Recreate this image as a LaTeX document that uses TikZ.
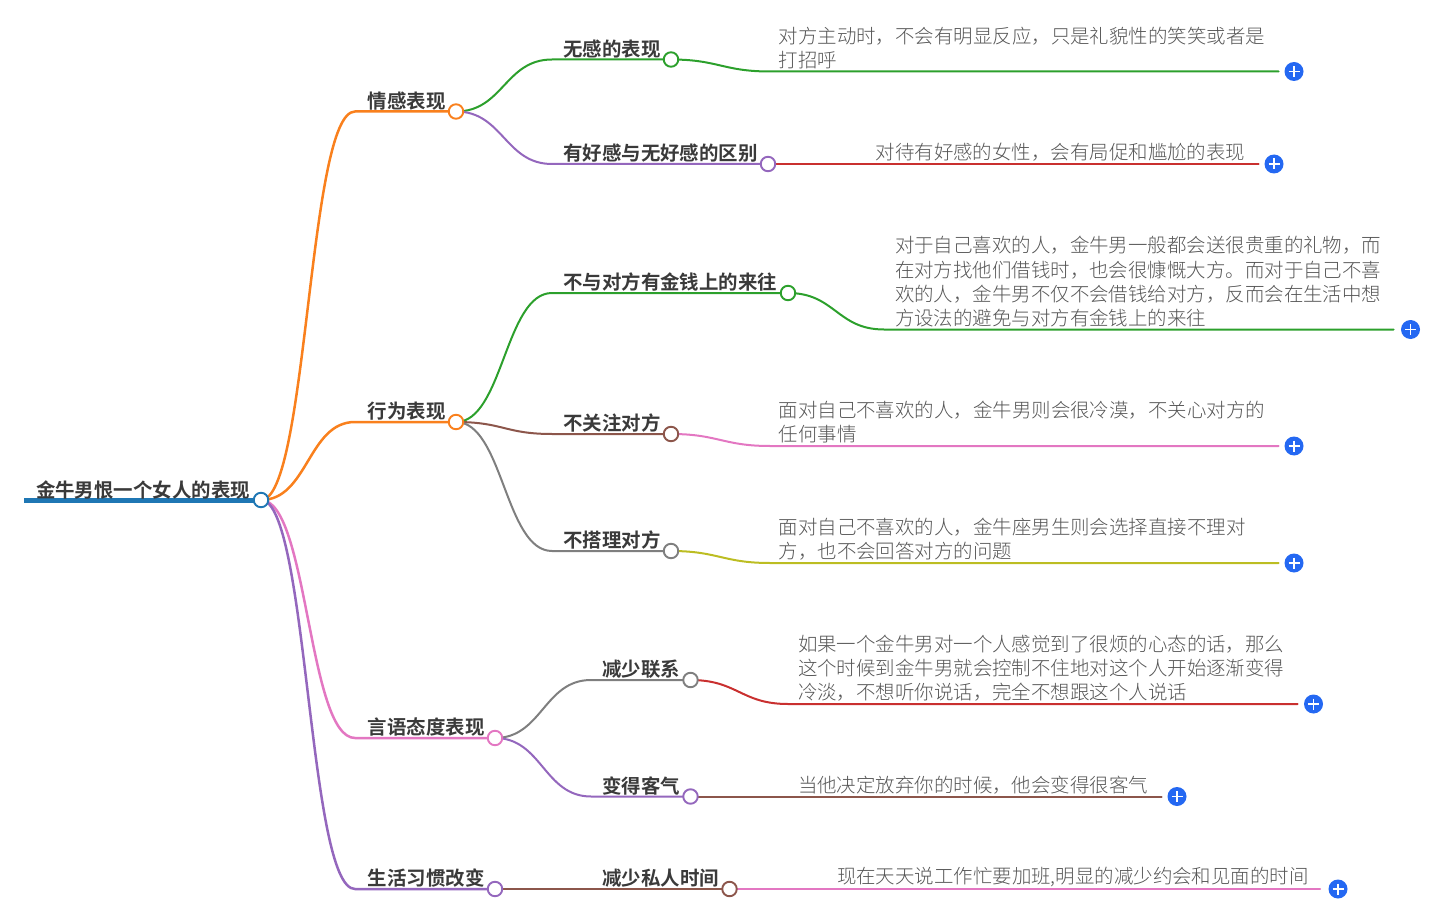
\documentclass[tikz,border=0pt]{standalone}
\usepackage{fontspec}
\setmainfont{Noto Sans CJK SC}[UprightFont=* Light,BoldFont=* Bold]
\usetikzlibrary{backgrounds,calc}
\definecolor{cblue}{HTML}{1F77B4}
\definecolor{corange}{HTML}{F9801D}
\definecolor{cgreen}{HTML}{2CA02C}
\definecolor{cred}{HTML}{C9302F}
\definecolor{cpurple}{HTML}{9467BD}
\definecolor{cbrown}{HTML}{8C564B}
\definecolor{cpink}{HTML}{E377C2}
\definecolor{cgray}{HTML}{7F7F7F}
\definecolor{colive}{HTML}{BCBD22}
\definecolor{cplus}{HTML}{2468F2}
\definecolor{ctitle}{HTML}{3A3A3A}
\definecolor{cdetail}{HTML}{555555}
\tikzset{
  x=1pt,y=-1pt,
  headtext/.style={anchor=west,inner sep=0pt,text=ctitle,font=\fontsize{19.45}{24}\bfseries\selectfont},
  detailtext/.style={anchor=west,inner sep=0pt,align=left,text=cdetail,font=\fontsize{19.45}{24.3}\selectfont},
  knob/.style={circle,draw=#1,fill=white,line width=1.9pt,minimum size=14.5pt,inner sep=0pt},
  plusbtn/.style={circle,fill=cplus,minimum size=19pt,inner sep=0pt},
  wire/.style={draw=#1,line width=2pt,line cap=round},
  mainwire/.style={draw=#1,line width=2.5pt,line cap=round},
  plusmark/.style={draw=white,line width=1.6pt}
}
% \trunk{colour}{from}{to}{x where curve ends}{bend}
\newcommand{\trunk}[5]{%
  \coordinate (J) at (#4,0);
  \draw[mainwire=#1] (#2.center) .. controls +(#5,0) and +(-#5,0) .. (J |- #3.center) -- (#3.center);}
% \conn{colour}{from}{to}{x where curve ends}{bend}
\newcommand{\conn}[5]{%
  \coordinate (J) at (#4,0);
  \draw[wire=#1] (#2.center) .. controls +(#5,0) and +(-#5,0) .. (J |- #3.center) -- (#3.center);}
% \leaf{colour}{from}{button}{x curve end}{x line end}{bend}
\newcommand{\leaf}[6]{%
  \coordinate (J) at (#4,0);\coordinate (K) at (#5,0);
  \draw[wire=#1] (#2.center) .. controls +(#6,0) and +(-#6,0) .. (J |- #3.center) -- (K |- #3.center);}
\newcommand{\plusin}[1]{%
  \draw[plusmark] ($(#1.center)+(-5.5,0)$) -- ($(#1.center)+(5.5,0)$);
  \draw[plusmark] ($(#1.center)+(0,-5.5)$) -- ($(#1.center)+(0,5.5)$);}
\begin{document}
\begin{tikzpicture}
\useasboundingbox (0,0) rectangle (1446,912);
% texts
\node[headtext] (troot) at (35.8,490) {金牛男恨一个女人的表现};
\node[headtext] (t1) at (367.7,101) {情感表现};
\node[headtext] (t2) at (367.7,411) {行为表现};
\node[headtext] (t3) at (367.7,727) {言语态度表现};
\node[headtext] (t4) at (367.7,878) {生活习惯改变};
\node[headtext] (t11) at (563,49) {无感的表现};
\node[headtext] (t12) at (563,153) {有好感与无好感的区别};
\node[headtext] (t21) at (563,282) {不与对方有金钱上的来往};
\node[headtext] (t22) at (563,423) {不关注对方};
\node[headtext] (t23) at (563,540) {不搭理对方};
\node[headtext] (t31) at (602,669) {减少联系};
\node[headtext] (t32) at (602,786) {变得客气};
\node[headtext] (t41) at (602,878) {减少私人时间};
\node[detailtext] (d11) at (778.5,48.3) {对方主动时，不会有明显反应，只是礼貌性的笑笑或者是\\打招呼};
\node[detailtext] (d12) at (875.5,152.3) {对待有好感的女性，会有局促和尴尬的表现};
\node[detailtext] (d21) at (894.8,282) {对于自己喜欢的人，金牛男一般都会送很贵重的礼物，而\\在对方找他们借钱时，也会很慷慨大方。而对于自己不喜\\欢的人，金牛男不仅不会借钱给对方，反而会在生活中想\\方设法的避免与对方有金钱上的来往};
\node[detailtext] (d22) at (778.5,422.3) {面对自己不喜欢的人，金牛男则会很冷漠，不关心对方的\\任何事情};
\node[detailtext] (d23) at (778.5,539.3) {面对自己不喜欢的人，金牛座男生则会选择直接不理对\\方，也不会回答对方的问题};
\node[detailtext] (d31) at (797.8,668) {如果一个金牛男对一个人感觉到了很烦的心态的话，那么\\这个时候到金牛男就会控制不住地对这个人开始逐渐变得\\冷淡，不想听你说话，完全不想跟这个人说话};
\node[detailtext] (d32) at (797.8,785.3) {当他决定放弃你的时候，他会变得很客气};
\node[detailtext] (d41) at (836.8,877.3) {现在天天说工作忙要加班,明显的减少约会和见面的时间};
% knobs
\node[knob=cblue] (root) at (261,500) {};
\node[knob=corange] (n1) at (456,111.5) {};
\node[knob=corange] (n2) at (456,422) {};
\node[knob=cpink] (n3) at (495,738) {};
\node[knob=cpurple] (n4) at (495,889) {};
\node[knob=cgreen] (n11) at (671,59.5) {};
\node[knob=cpurple] (n12) at (768,164) {};
\node[knob=cgreen] (n21) at (788,293) {};
\node[knob=cbrown] (n22) at (671,434) {};
\node[knob=cgray] (n23) at (671,551) {};
\node[knob=cgray] (n31) at (690.5,680) {};
\node[knob=cpurple] (n32) at (690.5,796.5) {};
\node[knob=cbrown] (n41) at (729.5,889) {};
% buttons
\node[plusbtn] (p11) at (1294,71.5) {};
\node[plusbtn] (p12) at (1274,164) {};
\node[plusbtn] (p21) at (1410.5,329.5) {};
\node[plusbtn] (p22) at (1294,446) {};
\node[plusbtn] (p23) at (1294,563) {};
\node[plusbtn] (p31) at (1313.5,704) {};
\node[plusbtn] (p32) at (1177,796.5) {};
\node[plusbtn] (p41) at (1338,889) {};
\plusin{p11}\plusin{p12}\plusin{p21}\plusin{p22}\plusin{p23}\plusin{p31}\plusin{p32}\plusin{p41}
% connectors
\begin{scope}[on background layer]
\coordinate (rs) at (24,500);
\draw[draw=cblue,line width=5pt] (rs) -- (root.center);
\trunk{corange}{root}{n1}{355}{47}
\trunk{corange}{root}{n2}{355}{47}
\trunk{cpink}{root}{n3}{355}{47}
\trunk{cpurple}{root}{n4}{355}{47}
\conn{cgreen}{n1}{n11}{552}{47}
\conn{cpurple}{n1}{n12}{552}{47}
\conn{cgreen}{n2}{n21}{552}{47}
\conn{cbrown}{n2}{n22}{552}{47}
\conn{cgray}{n2}{n23}{552}{47}
\conn{cgray}{n3}{n31}{591}{47}
\conn{cpurple}{n3}{n32}{591}{47}
\conn{cbrown}{n4}{n41}{591}{47}
\leaf{cgreen}{n11}{p11}{770}{1278.5}{47}
\leaf{cred}{n12}{p12}{866}{1258.5}{47}
\leaf{cgreen}{n21}{p21}{884}{1393.5}{47}
\leaf{cpink}{n22}{p22}{770}{1278.5}{47}
\leaf{colive}{n23}{p23}{770}{1278.5}{47}
\leaf{cred}{n31}{p31}{788}{1297.5}{47}
\leaf{cbrown}{n32}{p32}{788}{1161.5}{47}
\leaf{cpink}{n41}{p41}{828}{1320}{47}
\end{scope}
\end{tikzpicture}
\end{document}
